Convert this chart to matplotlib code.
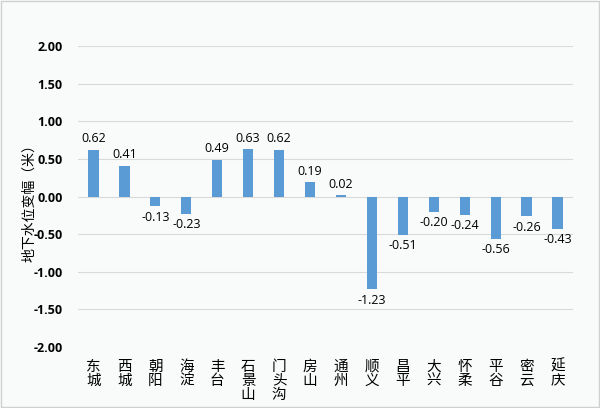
import matplotlib
matplotlib.use('Agg')
import matplotlib.pyplot as plt

plt.rcParams['font.family'] = ['Noto Sans CJK SC', 'DejaVu Sans']

districts = ['东城', '西城', '朝阳', '海淀', '丰台', '石景山', '门头沟', '房山',
             '通州', '顺义', '昌平', '大兴', '怀柔', '平谷', '密云', '延庆']
changes = [0.62, 0.41, -0.13, -0.23, 0.49, 0.63, 0.62, 0.19,
           0.02, -1.23, -0.51, -0.20, -0.24, -0.56, -0.26, -0.43]
yticks = [-2.0, -1.5, -1.0, -0.5, 0.0, 0.5, 1.0, 1.5, 2.0]

fig = plt.figure(figsize=(6, 4.08), dpi=100, facecolor='#f9fafa')
ax = fig.add_axes([0.13, 0.1495, 0.825, 0.7375])
ax.set_facecolor('#f9fafa')

x = list(range(len(districts)))
ax.bar(x, changes, width=0.33, color='#5b9bd5', zorder=3)

for xi, v in zip(x, changes):
    if v >= 0:
        ax.text(xi, v + 0.06, f'{v:.2f}', ha='center', va='bottom', fontsize=9,
                family=['Open Sans', 'DejaVu Sans'])
    else:
        ax.text(xi, v - 0.06, f'{v:.2f}', ha='center', va='top', fontsize=9,
                family=['Open Sans', 'DejaVu Sans'])

ax.set_ylim(-2.0, 2.0)
ax.set_xlim(-0.5, len(districts) - 0.5)
ax.set_yticks(yticks)
ax.set_yticklabels([f'{t:.2f}' for t in yticks], fontsize=9, fontweight='bold',
                   family=['Open Sans', 'DejaVu Sans'])
ax.grid(axis='y', color='#d9d9d9', linewidth=0.8, zorder=0)
ax.tick_params(axis='both', length=0)
ax.tick_params(axis='y', pad=11)
for s in ax.spines.values():
    s.set_visible(False)

ax.set_xticks(x)
ax.set_xticklabels(['\n'.join(d) for d in districts], fontsize=10.5, linespacing=1.0)
ax.tick_params(axis='x', pad=9)

ax.set_ylabel('地下水位变幅（米）', fontsize=10)
ax.yaxis.set_label_coords(-0.085, 0.49)

# figure border
fig.patches.append(plt.Rectangle((0.002, 0.002), 0.996, 0.996, transform=fig.transFigure,
                                 fill=False, edgecolor='#d0d0d0', linewidth=1))

fig.savefig('out.png', dpi=100, facecolor=fig.get_facecolor())
